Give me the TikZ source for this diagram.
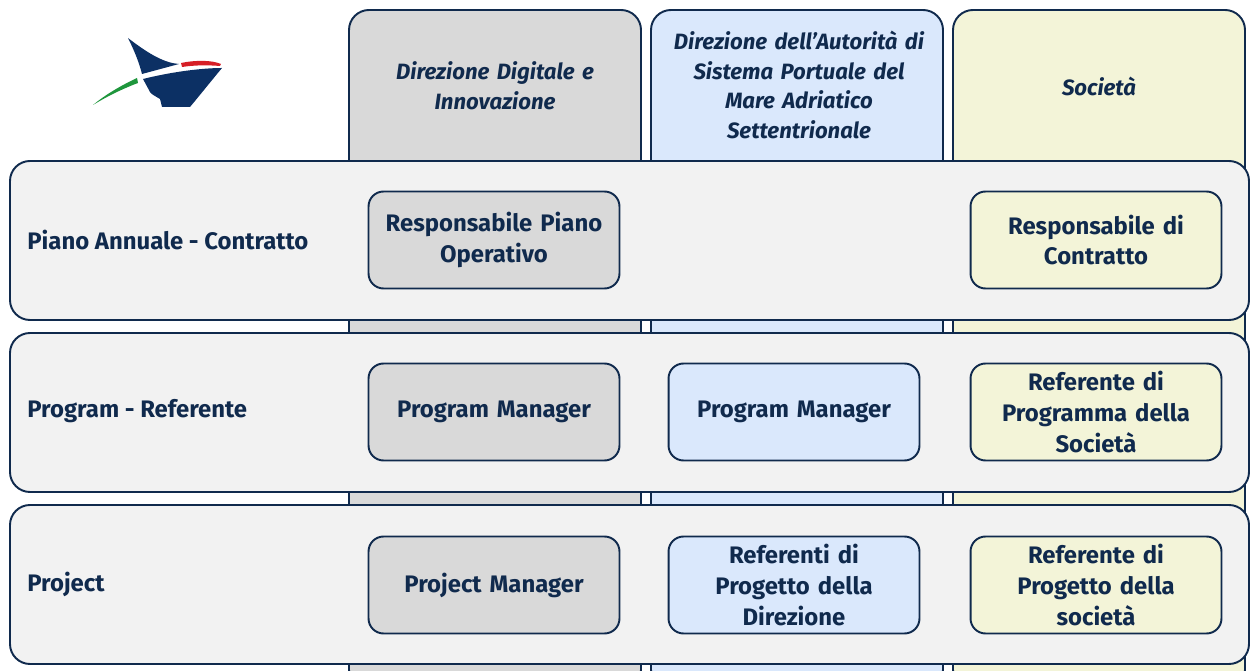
\documentclass[tikz,border=0pt]{standalone}
\usepackage{fontspec}
\setmainfont{Fira Sans}
\usetikzlibrary{positioning}
\definecolor{navy}{RGB}{16,42,77}
\definecolor{logoblue}{RGB}{12,48,100}
\definecolor{logored}{RGB}{214,30,38}
\definecolor{logogreen}{RGB}{30,150,60}
\definecolor{colgray}{RGB}{217,217,217}
\definecolor{colblue}{RGB}{218,232,252}
\definecolor{colyellow}{RGB}{243,244,216}
\definecolor{rowgray}{RGB}{242,242,242}

\begin{document}
\begin{tikzpicture}[x=0.02cm,y=-0.02cm,
  band/.style={draw=navy,line width=1.1pt,rounded corners=0.4cm},
  role/.style={draw=navy,line width=1.1pt,rounded corners=0.3cm,minimum width=5.02cm,minimum height=1.94cm,
    text width=4.8cm,align=center,inner sep=0pt,text=navy,font=\bfseries\fontsize{13.6}{17.5}\selectfont},
  head/.style={text width=5.4cm,align=center,inner sep=0pt,text=navy,font=\bfseries\itshape\fontsize{12.6}{17}\selectfont},
  rowlabel/.style={anchor=west,inner sep=0pt,text=navy,font=\bfseries\fontsize{13.6}{16}\selectfont}]
  \path[use as bounding box] (0,0) rectangle (1250,671);
  \clip (0,0) rectangle (1250,671);

  % logo
  \fill[logoblue] (128,38) .. controls (150,55) and (165,63) .. (179,64)
    -- (142,74) .. controls (139,62) and (134,50) .. (128,38) -- cycle;
  \fill[logoblue] (143,79) .. controls (175,71) and (205,68) .. (222,68)
    .. controls (212,80) and (200,95) .. (190,107) -- (162,107) -- (160,99)
    .. controls (155,96) and (151,94) .. (150,92) -- cycle;
  \fill[logored] (181,63) .. controls (195,60) and (212,60) .. (221,64)
    -- (220,66) .. controls (208,65) and (195,65) .. (182,67) -- cycle;
  \fill[logogreen] (93,105) .. controls (105,95) and (120,86) .. (137,78)
    -- (138,83) .. controls (122,89) and (106,97) .. (93,105) -- cycle;

  % columns
  \foreach \x/\c in {349/colgray,651/colblue,953/colyellow}
    \draw[band,fill=\c] (\x,10) rectangle ++(292,680);
  \node[head] (hdigitale) at (495,86) {Direzione Digitale e\\Innovazione};
  \node[head] (hautorita) at (799,85) {Direzione dell’Autorità di\\Sistema Portuale del\\Mare Adriatico\\Settentrionale};
  \node[head] (hsocieta) at (1099,86) {Società};

  % rows
  \foreach \y in {161,333,505}
    \draw[band,fill=rowgray] (10,\y) rectangle ++(1239,159);
  \node[rowlabel] (lpiano) at (27,240) {Piano Annuale - Contratto};
  \node[rowlabel] (lprogram) at (27,411) {Program - Referente};
  \node[rowlabel] (lproject) at (27,584) {Project};

  \node[role,fill=colgray] (rpiano) at (494,240) {Responsabile Piano\\Operativo};
  \node[role,fill=colyellow] (rcontratto) at (1096,240) {Responsabile di\\Contratto};

  \node[role,fill=colgray] (pmdigitale) at (494,412) {Program Manager};
  \node[role,fill=colblue] (pmautorita) at (794,412) {Program Manager};
  \node[role,fill=colyellow] (refprogramma) at (1096,412) {Referente di\\Programma della\\Società};

  \node[role,fill=colgray] (prjmanager) at (494,585) {Project Manager};
  \node[role,fill=colblue] (refdirezione) at (794,585) {Referenti di\\Progetto della\\Direzione};
  \node[role,fill=colyellow] (refsocieta) at (1096,585) {Referente di\\Progetto della\\società};
\end{tikzpicture}
\end{document}
